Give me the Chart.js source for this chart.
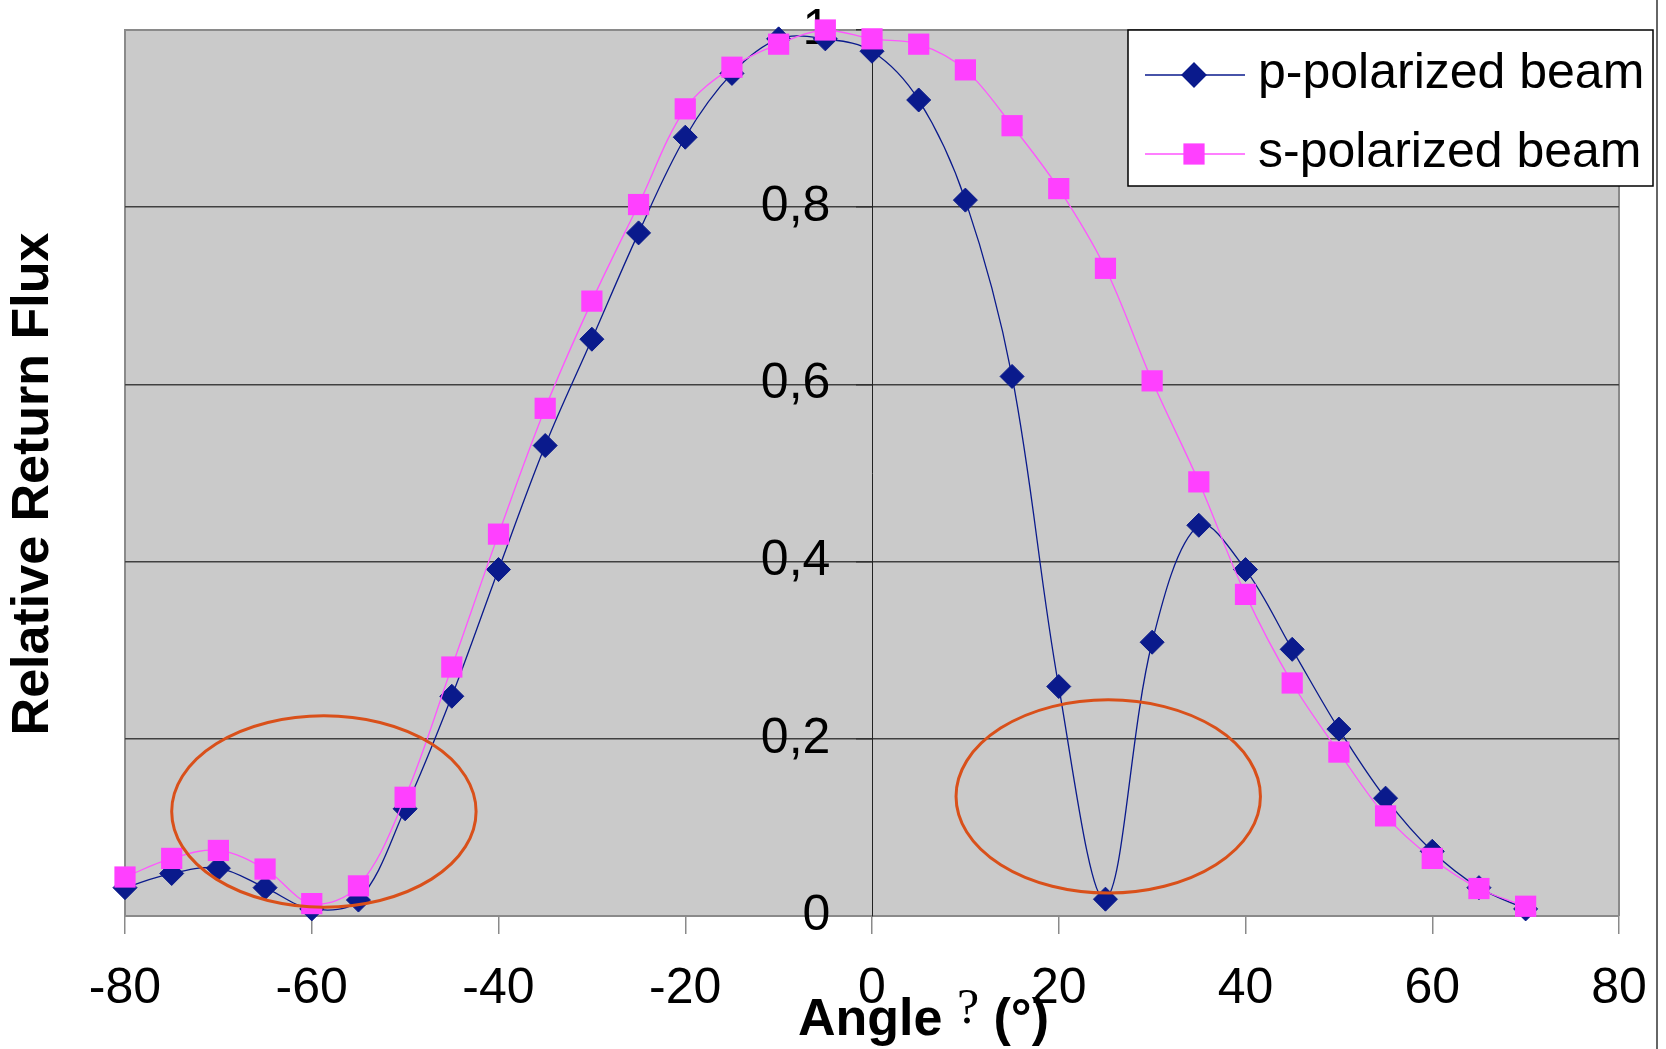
<!DOCTYPE html>
<html>
<head>
<meta charset="utf-8">
<title>Relative Return Flux</title>
<script src="https://cdn.jsdelivr.net/npm/chart.js@4.4.1/dist/chart.umd.min.js"></script>
<style>
  html, body { margin: 0; padding: 0; background: #fff; }
  #wrap { width: 1666px; height: 1049px; }
</style>
</head>
<body>
<div id="wrap"><canvas id="fluxChart" width="1666" height="1049"></canvas></div>
<script>
// angle of incidence (deg)
var angles = [-80, -75, -70, -65, -60, -55, -50, -45, -40, -35, -30, -25, -20, -15, -10, -5,
              0, 5, 10, 15, 20, 25, 30, 35, 40, 45, 50, 55, 60, 65, 70];
// relative return flux
var pPolarized = [0.032, 0.048, 0.054, 0.032, 0.008, 0.018, 0.121, 0.248, 0.391, 0.531, 0.651, 0.771, 0.879, 0.951, 0.990, 0.990,
                  0.976, 0.921, 0.808, 0.609, 0.259, 0.019, 0.309, 0.441, 0.391, 0.301, 0.211, 0.133, 0.073, 0.032, 0.008];
var sPolarized = [0.044, 0.065, 0.074, 0.053, 0.014, 0.034, 0.134, 0.281, 0.431, 0.573, 0.694, 0.803, 0.911, 0.958, 0.984, 1.000,
                  0.990, 0.984, 0.955, 0.892, 0.821, 0.731, 0.604, 0.490, 0.363, 0.263, 0.185, 0.113, 0.065, 0.031, 0.011];

var seriesLabels = ['p-polarized beam', 's-polarized beam'];
var xTicks = [-80, -60, -40, -20, 0, 20, 40, 60, 80];
var yTicks = [0, 0.2, 0.4, 0.6, 0.8, 1];
// x title pieces: the "?" is a lost theta, set in a different font in the original
var xTitleParts = ['Angle ', '?', ' (°)'];
var yTitle = 'Relative Return Flux';

// the two orange rings (centre and half axes in data units)
var rings = [
  { x: -58.7, y: 0.118, rx: 16.3, ry: 0.108 },
  { x: 25.3, y: 0.135, rx: 16.3, ry: 0.109 }
];

var tickFont = { family: '"Liberation Sans", Arial, sans-serif', size: 50 };

function toPoints(xs, ys) {
  return xs.map(function (x, i) { return { x: x, y: ys[i] }; });
}

// grey plot area + frame
var plotBackground = {
  id: 'plotBackground',
  beforeDraw: function (chart) {
    var ctx = chart.ctx, a = chart.chartArea;
    ctx.save();
    ctx.fillStyle = '#fff';
    ctx.fillRect(0, 0, chart.width, chart.height);
    ctx.fillStyle = '#cacaca';
    ctx.fillRect(a.left, a.top, a.right - a.left, a.bottom - a.top);
    ctx.strokeStyle = '#8a8a8a';
    ctx.lineWidth = 2;
    ctx.beginPath();
    ctx.moveTo(a.left, a.bottom);
    ctx.lineTo(a.left, a.top);
    ctx.lineTo(a.right, a.top);
    ctx.lineTo(a.right, a.bottom);
    ctx.stroke();
    ctx.restore();
  }
};

// rings, legend box, axis titles
var extras = {
  id: 'extras',
  afterDraw: function (chart) {
    var ctx = chart.ctx;
    var xs = chart.scales.x, ys = chart.scales.y;

    ctx.save();
    ctx.strokeStyle = '#d9501a';
    ctx.lineWidth = 3;
    rings.forEach(function (r) {
      var cx = xs.getPixelForValue(r.x), cy = ys.getPixelForValue(r.y);
      var rx = xs.getPixelForValue(r.x + r.rx) - cx;
      var ry = cy - ys.getPixelForValue(r.y + r.ry);
      ctx.beginPath();
      ctx.ellipse(cx, cy, rx, ry, 0, 0, Math.PI * 2);
      ctx.stroke();
    });

    // legend
    ctx.fillStyle = '#fff';
    ctx.fillRect(1128, 30, 525, 156);
    ctx.strokeStyle = '#000';
    ctx.lineWidth = 1.5;
    ctx.strokeRect(1128, 30, 525, 156);
    var rowY = [75, 154];
    chart.data.datasets.forEach(function (ds, i) {
      var y = rowY[i];
      ctx.strokeStyle = ds.borderColor;
      ctx.lineWidth = ds.borderWidth;
      ctx.beginPath();
      ctx.moveTo(1145, y);
      ctx.lineTo(1245, y);
      ctx.stroke();
      ctx.fillStyle = ds.pointBackgroundColor;
      ctx.strokeStyle = ds.pointBorderColor;
      Chart.helpers.drawPoint(ctx, {
        pointStyle: ds.pointStyle, radius: ds.pointRadius,
        borderWidth: ds.pointBorderWidth, rotation: 0
      }, 1194, y);
      ctx.fillStyle = '#000';
      ctx.font = '50px "Liberation Sans", Arial, sans-serif';
      ctx.textAlign = 'left';
      ctx.textBaseline = 'alphabetic';
      ctx.fillText(ds.label, 1258, y + 13);
    });

    // x title, written piece by piece
    var bold = 'bold 52px "Liberation Sans", Arial, sans-serif';
    var serif = '50px "Liberation Serif", "Times New Roman", serif';
    ctx.fillStyle = '#000';
    ctx.textAlign = 'left';
    ctx.textBaseline = 'alphabetic';
    var tx = 798;
    ctx.font = bold;
    ctx.fillText(xTitleParts[0], tx, 1035);
    tx += ctx.measureText(xTitleParts[0]).width;
    ctx.font = serif;
    ctx.fillText(xTitleParts[1], tx, 1023);
    tx += ctx.measureText(xTitleParts[1]).width;
    ctx.font = bold;
    ctx.fillText(xTitleParts[2], tx, 1035);

    // y title
    ctx.translate(34, 484);
    ctx.rotate(-Math.PI / 2);
    ctx.font = 'bold 52px "Liberation Sans", Arial, sans-serif';
    ctx.textAlign = 'center';
    ctx.textBaseline = 'middle';
    ctx.fillText(yTitle, 0, 0);
    ctx.restore();

    // right frame edge
    ctx.save();
    ctx.strokeStyle = '#333';
    ctx.lineWidth = 1.5;
    ctx.beginPath();
    ctx.moveTo(1657, 0);
    ctx.lineTo(1657, chart.height);
    ctx.stroke();
    ctx.restore();
  }
};

var ctx = document.getElementById('fluxChart').getContext('2d');
var fluxChart = new Chart(ctx, {
  type: 'line',
  data: {
    datasets: [{
      label: seriesLabels[0],
      data: toPoints(angles, pPolarized),
      borderColor: '#0a1a8c',
      backgroundColor: '#0a1a8c',
      pointBackgroundColor: '#0a1a8c',
      pointBorderColor: '#0a1a8c',
      borderWidth: 1.3,
      pointStyle: 'rectRot',
      pointRadius: 12,
      pointBorderWidth: 1,
      tension: 0.35,
      clip: false,
      order: 1
    }, {
      label: seriesLabels[1],
      data: toPoints(angles, sPolarized),
      borderColor: '#ff55ff',
      backgroundColor: '#ff40ff',
      pointBackgroundColor: '#ff40ff',
      pointBorderColor: '#ff40ff',
      borderWidth: 1.3,
      pointStyle: 'rect',
      pointRadius: 15,
      pointBorderWidth: 0,
      tension: 0.35,
      clip: false,
      order: 0
    }]
  },
  options: {
    responsive: false,
    animation: false,
    devicePixelRatio: 1,
    layout: { padding: { left: 125, right: 47, top: 28, bottom: 30 } },
    plugins: {
      legend: { display: false },
      tooltip: { enabled: false }
    },
    scales: {
      x: {
        type: 'linear',
        position: 'bottom',
        min: -80,
        max: 80,
        afterBuildTicks: function (scale) {
          scale.ticks = xTicks.map(function (v) { return { value: v }; });
        },
        ticks: {
          font: tickFont,
          color: '#000',
          padding: 0,
          maxRotation: 0,
          autoSkip: false
        },
        grid: {
          drawOnChartArea: false,
          // long tick box for the label gap, only the first 17px is inked
          tickLength: 43,
          tickBorderDash: [17, 100],
          color: '#8a8a8a',
          lineWidth: 1.5
        },
        border: { display: true, color: '#8a8a8a', width: 2 }
      },
      y: {
        type: 'linear',
        position: { x: 0 },
        min: 0,
        max: 1,
        afterBuildTicks: function (scale) {
          scale.ticks = yTicks.map(function (v) { return { value: v }; });
        },
        ticks: {
          font: tickFont,
          color: '#000',
          padding: 0,
          callback: function (v) { return String(v).replace('.', ',') + '   '; }
        },
        grid: {
          color: function (c) {
            var v = c.tick ? c.tick.value : null;
            return (v === 0 || v === 1) ? 'rgba(0,0,0,0)' : '#404040';
          },
          tickColor: '#303030',
          lineWidth: 1.5,
          tickLength: 16
        },
        border: { display: true, color: '#222', width: 1 }
      }
    }
  },
  plugins: [plotBackground, extras]
});
</script>
</body>
</html>
